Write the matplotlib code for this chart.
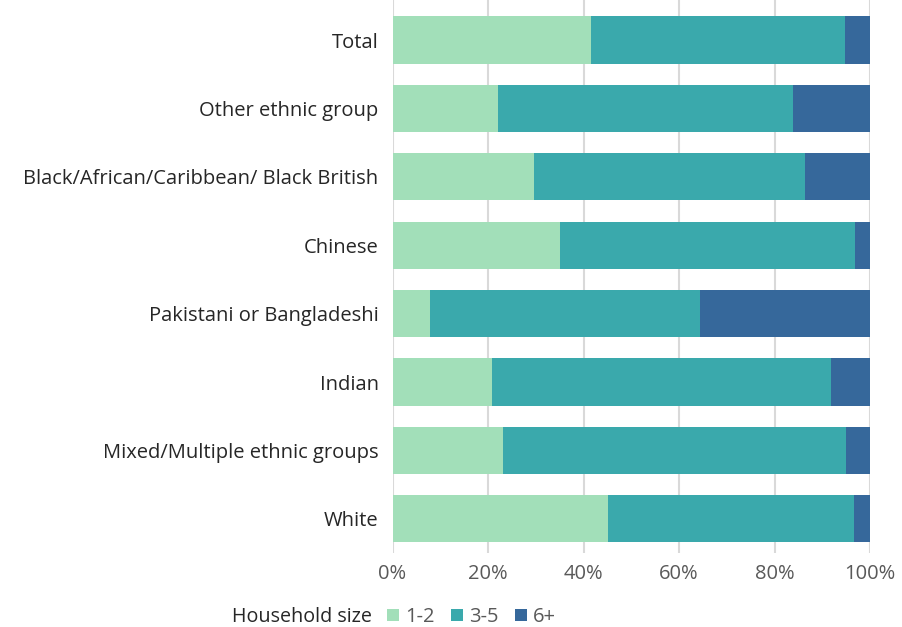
import numpy as np
import matplotlib
matplotlib.use('Agg')
import matplotlib.pyplot as plt
from matplotlib.ticker import PercentFormatter

# Household size by ethnic group (% of households)
groups = ['White', 'Mixed/Multiple ethnic groups', 'Indian', 'Pakistani or Bangladeshi',
          'Chinese', 'Black/African/Caribbean/ Black British', 'Other ethnic group', 'Total']
size_1_2 = [45.1, 23.1, 20.8, 7.9, 35.1, 29.6, 22.1, 41.5]
size_3_5 = [51.5, 71.8, 71.0, 56.4, 61.7, 56.7, 61.8, 53.2]
size_6 = [3.4, 5.1, 8.2, 35.7, 3.2, 13.7, 16.1, 5.3]

colores = ['#A2DFB9', '#3AA9AC', '#36689B']
nombres = ['1-2', '3-5', '6+']

plt.rcParams['font.family'] = ['Open Sans', 'DejaVu Sans']

fig = plt.figure(figsize=(9.02, 6.27), dpi=100)
ax = fig.add_axes([392.5 / 902, 74 / 627, (870 - 392.5) / 902, 553 / 627])

y = np.arange(len(groups))
izq = np.zeros(len(groups))
for vals, col, nom in zip([size_1_2, size_3_5, size_6], colores, nombres):
    ax.barh(y, vals, left=izq, height=0.69, color=col, label=nom, zorder=3)
    izq += np.array(vals)

ax.set_xlim(0, 100)
ax.set_ylim(-0.5, 7.585)
ax.set_xticks(np.arange(0, 101, 20))
ax.xaxis.set_major_formatter(PercentFormatter(decimals=0))
ax.set_yticks(y)
ax.set_yticklabels(groups, fontsize=14.5, color='#262626')
ax.tick_params(axis='x', labelsize=14.5, labelcolor='#595959', length=0, pad=8)
ax.tick_params(axis='y', length=0, pad=10)

ax.xaxis.grid(True, color='#D9D9D9', linewidth=1.5, zorder=0)
for s in ax.spines.values():
    s.set_visible(False)

fig.text(232 / 902, 1 - 617 / 627, 'Household size', fontsize=14.2, color='#262626',
         va='center', ha='left')
fig.legend(loc='center left', bbox_to_anchor=(377 / 902, 1 - 617 / 627), ncol=3,
           frameon=False, fontsize=14.5, handlelength=0.6, handleheight=0.6,
           handletextpad=0.3, columnspacing=0.8, borderpad=0, labelcolor='#595959')

fig.savefig('out.png', dpi=100)
